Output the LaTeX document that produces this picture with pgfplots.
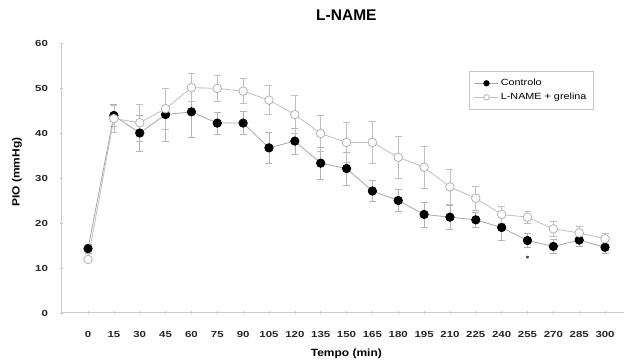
\documentclass[border=0pt]{standalone}
\usepackage{fontspec}
\setmainfont{Liberation Sans}
\newfontfamily\tickfont{Liberation Sans}[FakeStretch=1.3]
\newfontfamily\labfont{Liberation Sans}[FakeStretch=1.14]
\newfontfamily\legfont{Liberation Sans}[FakeStretch=1.2]
\usepackage{pgfplots}
\usepackage{pgfplotstable}
\pgfplotsset{compat=1.18}
\pgfplotstableread{
t c ce g ge
0 14.3 1.0 11.9 0.5
15 43.9 2.4 43.2 3.0
30 40.0 4.0 42.3 4.1
45 44.1 5.9 45.4 4.6
60 44.7 5.7 50.1 3.1
75 42.2 2.4 49.9 2.9
90 42.2 2.6 49.3 2.8
105 36.7 3.4 47.3 3.2
120 38.2 2.9 44.1 4.2
135 33.3 3.6 39.9 4.0
150 32.1 3.7 37.9 4.4
165 27.1 2.3 37.9 4.7
180 25.0 2.4 34.6 4.7
195 21.9 2.8 32.4 4.6
210 21.3 2.6 28.0 3.9
225 20.7 1.7 25.5 2.6
240 19.0 2.9 21.9 1.9
255 16.1 1.6 21.3 1.3
270 14.8 1.6 18.7 1.7
285 16.2 1.3 17.8 1.5
300 14.6 1.3 16.5 1.2
}\data
\begin{document}
\begin{tikzpicture}
\begin{axis}[
  scale only axis, width=562pt, height=270pt,
  xmin=-15.1, xmax=311, ymin=0, ymax=60,
  axis lines=left,
  axis line style={gray!40, line width=1pt, -},
  xtick={0,15,...,300}, ytick={0,10,...,60},
  tick align=center, major tick length=3pt,
  tick style={gray!45, line width=0.6pt},
  /pgf/number format/assume math mode=true,
  tick label style={font=\tickfont\bfseries\fontsize{8.8}{10}\selectfont, text=black!85},
  xticklabel style={yshift=-13pt},
  yticklabel style={xshift=-9pt},
  title={L-NAME},
  title style={font=\bfseries\fontsize{15.5}{18}\selectfont, at={(axis description cs:0.506,1)}, anchor=center, yshift=22pt},
  xlabel={Tempo (min)},
  xlabel style={font=\labfont\bfseries\fontsize{10.5}{12}\selectfont, at={(axis description cs:0.506,0)}, anchor=center, yshift=-41pt},
  ylabel={PIO (mmHg)},
  ylabel style={font=\labfont\bfseries\fontsize{10.5}{12}\selectfont, at={(axis description cs:-0.0801,0.522)}, anchor=center},
  legend cell align=left,
  legend style={at={(axis description cs:0.724,0.896)}, anchor=north west,
    draw=gray!45, fill=white, font=\legfont\fontsize{9}{10.5}\selectfont,
    inner xsep=5pt, inner ysep=6pt, row sep=2pt},
  legend image code/.code={\draw[mark repeat=2, mark phase=2, mark size=2.7pt] plot coordinates {(0pt,0pt) (12pt,0pt) (24pt,0pt)};},
]
\addplot[gray!70, line width=0.8pt, mark=*, mark size=4.2pt,
  mark options={black, fill=black, solid},
  error bars/.cd, y dir=both, y explicit,
  error bar style={gray!60, line width=0.6pt},
  error mark options={rotate=90, gray!60, mark size=3.5pt, line width=0.6pt}]
  table[x=t, y=c, y error=ce]{\data};
\addlegendentry{Controlo}
\addplot[gray!50, line width=0.8pt, mark=*, mark size=4.3pt,
  mark options={draw=gray!60, fill=white, solid},
  error bars/.cd, y dir=both, y explicit,
  error bar style={gray!50, line width=0.6pt},
  error mark options={rotate=90, gray!50, mark size=3.5pt, line width=0.6pt}]
  table[x=t, y=g, y error=ge]{\data};
\addlegendentry{L-NAME + grelina}
\addplot[only marks, mark=asterisk, mark size=1.6pt, black, forget plot] coordinates {(255,12.4)};
\end{axis}
\pgfresetboundingbox
\path (-62pt,-48pt) rectangle (562pt,313pt);
\end{tikzpicture}
\end{document}
